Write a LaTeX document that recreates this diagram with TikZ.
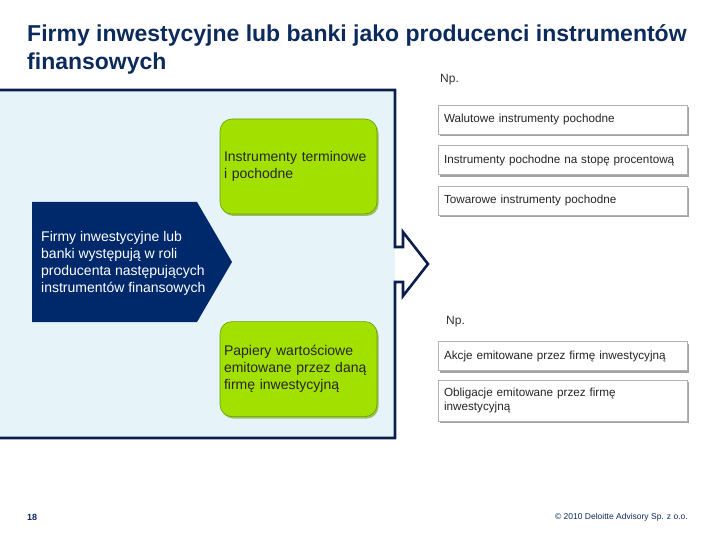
\documentclass[tikz,border=0pt]{standalone}
\usepackage{fontspec}
\setmainfont{Liberation Sans}
\usepackage{tikz}
\usetikzlibrary{positioning, shadows}
\definecolor{navy}{HTML}{00296B}
\definecolor{titleblue}{HTML}{0C2A5C}
\definecolor{frame}{HTML}{0B1E4D}
\definecolor{panelblue}{HTML}{E6F4FA}
\definecolor{lime}{HTML}{A2E000}
\definecolor{limedark}{HTML}{6A9E00}
\definecolor{textgray}{HTML}{333333}
\tikzstyle{greenbox} = [rectangle, rounded corners=12pt, fill=lime, draw=limedark,
                        line width=0.6pt, minimum height=95pt, text width=149pt,
                        inner sep=4pt, align=left, font=\fontsize{14}{17}\selectfont,
                        text=black!85,
                        drop shadow={shadow xshift=1.5pt, shadow yshift=-2pt,
                                     fill=limedark, opacity=0.6}]
\tikzstyle{whitebox} = [rectangle, fill=white, draw=gray!60, line width=0.6pt,
                        minimum height=29pt, text width=237pt, inner xsep=6pt,
                        align=left, font=\fontsize{11.7}{14}\selectfont, text=black!85,
                        drop shadow={shadow xshift=2pt, shadow yshift=-2pt,
                                     fill=black!60, opacity=0.6}]
\tikzstyle{chevtext} = [inner sep=0pt, align=left, text=white,
                        font=\fontsize{14}{17}\selectfont]
\tikzstyle{note}     = [font=\fontsize{12}{14}\selectfont, text=textgray, inner sep=0pt]

\begin{document}
\begin{tikzpicture}[x=1pt, y=-1pt]
  \useasboundingbox (0,0) rectangle (720,540);

  %% Title
  \node[anchor=north west, inner sep=0pt, align=left, text=titleblue,
        font=\fontsize{23}{28}\selectfont\bfseries] (title) at (27,24)
        {Firmy inwestycyjne lub banki jako producenci instrumentów\\finansowych};

  %% Panel with arrow
  \fill[panelblue] (0,90) rectangle (395,438);
  \draw[frame, line width=2.6pt, line join=miter]
        (0,90) -- (395,90) -- (395,247) -- (403,247) -- (403,232) -- (428,264)
        -- (403,296) -- (403,282) -- (395,282) -- (395,438) -- (0,438);

  %% Producer chevron
  \fill[navy] (32,202) -- (197,202) -- (232,262) -- (197,322) -- (32,322) -- cycle;
  \node[chevtext, anchor=west] (firmy) at (41,263)
        {Firmy inwestycyjne lub\\banki występują w roli\\producenta następujących\\instrumentów finansowych};

  %% Instrument groups
  \node[greenbox] (term) at (298.5,166.5) {Instrumenty terminowe\\i pochodne};
  \node[greenbox, below=107pt of term] (papiery)
        {Papiery wartościowe\\emitowane przez daną\\firmę inwestycyjną};

  %% Examples: derivatives
  \node[note, anchor=west] (np1) at (440,80) {Np.};
  \node[whitebox] (walut) at (562.5,119.5) {Walutowe instrumenty pochodne};
  \node[whitebox, below=11pt of walut] (stopa) {Instrumenty pochodne na stopę procentową};
  \node[whitebox, below=11pt of stopa] (towar) {Towarowe instrumenty pochodne};

  %% Examples: securities
  \node[note, anchor=west] (np2) at (446,322) {Np.};
  \node[whitebox] (akcje) at (562.5,356) {Akcje emitowane przez firmę inwestycyjną};
  \node[whitebox, minimum height=41pt, below=9pt of akcje] (oblig)
        {Obligacje emitowane przez firmę\\inwestycyjną};

  %% Footer
  \node[anchor=west, inner sep=0pt, text=titleblue, font=\fontsize{9}{10}\selectfont\bfseries]
        (page) at (27,517) {18};
  \node[anchor=east, inner sep=0pt, text=titleblue, font=\fontsize{8.5}{9}\selectfont]
        (copy) at (688,517) {© 2010 Deloitte Advisory Sp. z o.o.};

\end{tikzpicture}
\end{document}
